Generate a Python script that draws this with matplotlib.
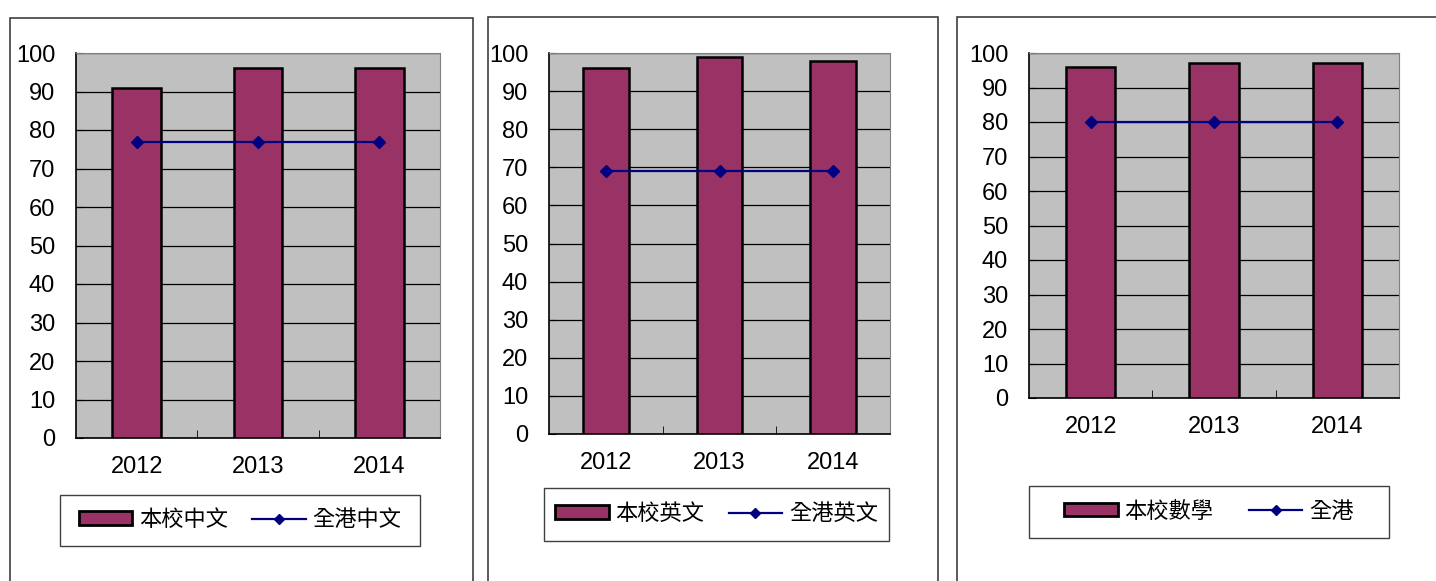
import matplotlib
import matplotlib.pyplot as plt
from matplotlib.patches import Rectangle, Patch
from matplotlib.lines import Line2D

matplotlib.use('Agg')
plt.rcParams['font.family'] = ['Liberation Sans', 'Noto Sans CJK TC', 'DejaVu Sans']

years = ['2012', '2013', '2014']

school_chi = [91, 96, 96]
hk_chi = [77, 77, 77]
school_eng = [96, 99, 98]
hk_eng = [69, 69, 69]
school_math = [96, 97, 97]
hk_math = [80, 80, 80]

bar_labels = ['本校中文', '本校英文', '本校數學']
line_labels = ['全港中文', '全港英文', '全港']

W, H = 1436, 581
BAR_COLOR = '#993366'
LINE_COLOR = '#000080'
PLOT_BG = '#C0C0C0'

# pixel boxes: (left, top, right, bottom)
frames = [(10, 18, 473, 600), (488, 17, 938, 600), (957, 17, 1450, 600)]
plots = [(76, 53, 440, 438), (549, 53, 890, 434), (1029, 53, 1399, 398)]
legends = [(60, 495, 420, 546), (544, 488, 889, 541), (1029, 486, 1389, 538)]
col_spacing = [1.1, 1.1, 1.6]


def fig_box(box):
    l, t, r, b = box
    return [l / W, (H - b) / H, (r - l) / W, (b - t) / H]


fig = plt.figure(figsize=(W / 100, H / 100), dpi=100)

panels = [(school_chi, hk_chi), (school_eng, hk_eng), (school_math, hk_math)]

for i, (bars, line) in enumerate(panels):
    fx, fy, fw, fh = fig_box(frames[i])
    fig.patches.append(Rectangle((fx, fy), fw, fh, transform=fig.transFigure,
                                 fill=False, edgecolor='#404040', linewidth=1.2))

    ax = fig.add_axes(fig_box(plots[i]))
    ax.set_facecolor(PLOT_BG)
    x = range(len(years))
    ax.bar(x, bars, width=0.4, color=BAR_COLOR, edgecolor='black', linewidth=1.8, zorder=3)
    ax.plot(x, line, color=LINE_COLOR, linewidth=1.6, marker='D', markersize=6, zorder=4)

    ax.set_xlim(-0.5, 2.5)
    ax.set_ylim(0, 100)
    ax.set_yticks(range(0, 101, 10))
    ax.yaxis.grid(True, color='black', linewidth=0.9, zorder=1)
    ax.set_axisbelow(True)
    ax.tick_params(axis='y', direction='in', length=5, pad=15, labelsize=17, color='black')
    ax.set_xticks(list(x))
    ax.set_xticklabels(years)
    ax.tick_params(axis='x', which='major', length=0, pad=13, labelsize=17)
    ax.set_xticks([0.5, 1.5], minor=True)
    ax.tick_params(axis='x', which='minor', direction='in', length=6, color='black')

    ax.spines['left'].set_color('black')
    ax.spines['bottom'].set_color('black')
    ax.spines['left'].set_linewidth(1.2)
    ax.spines['bottom'].set_linewidth(1.2)
    ax.spines['top'].set_color('#808080')
    ax.spines['right'].set_color('#808080')

    lx, ly, lw, lh = fig_box(legends[i])
    fig.patches.append(Rectangle((lx, ly), lw, lh, transform=fig.transFigure,
                                 fill=False, edgecolor='#404040', linewidth=1.0))
    handles = [Patch(facecolor=BAR_COLOR, edgecolor='black', linewidth=2.0),
               Line2D([], [], color=LINE_COLOR, linewidth=1.6, marker='D', markersize=5)]
    fig.legend(handles, [bar_labels[i], line_labels[i]], loc='center',
               bbox_to_anchor=(lx + lw / 2, ly + lh / 2), bbox_transform=fig.transFigure,
               ncol=2, frameon=False, fontsize=16, handlelength=2.4, handleheight=0.55,
               handletextpad=0.3, columnspacing=col_spacing[i], borderpad=0)

fig.savefig('out.png', dpi=100)
